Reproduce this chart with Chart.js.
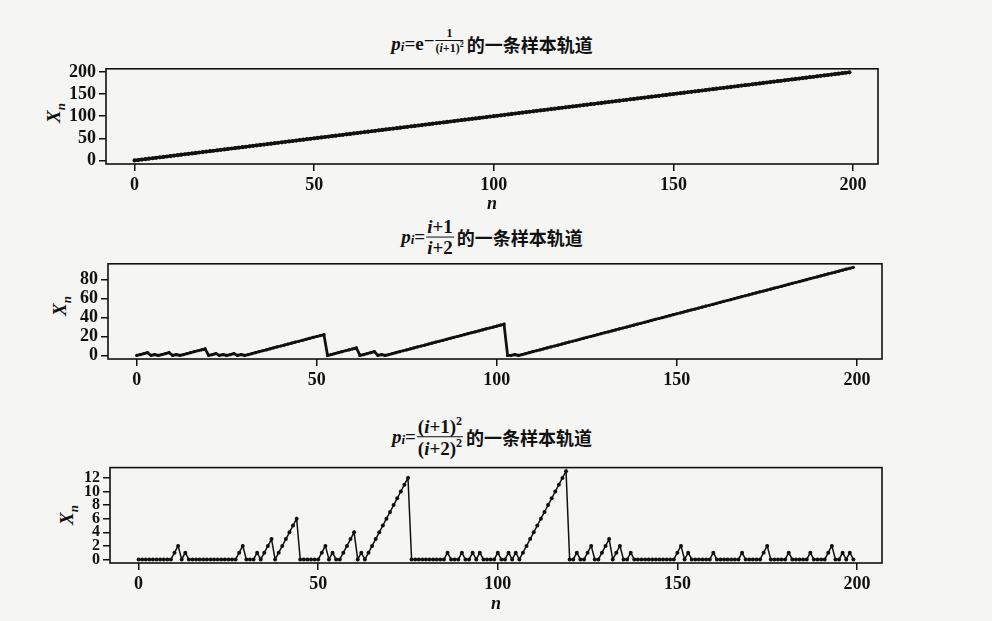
<!DOCTYPE html>
<html>
<head>
<meta charset="utf-8">
<script src="https://cdn.jsdelivr.net/npm/chart.js@4/dist/chart.umd.min.js"></script>
<style>
  body { margin: 0; background: #f5f5f4; }
  #wrap { position: relative; width: 992px; height: 621px; overflow: hidden; }
  canvas { position: absolute; left: 0; }
  .ttl {
    position: absolute; left: 492px; transform: translate(-50%, -50%);
    font-family: "Liberation Serif", "Noto Sans CJK SC", serif; font-weight: bold;
    font-size: 19px; color: #111; white-space: nowrap;
    display: flex; align-items: center;
  }
  .ttl sub { font-size: 13px; position: relative; top: 3px; vertical-align: baseline; }
  .ttl .cn { font-family: "Noto Sans CJK SC", sans-serif; font-size: 18px; margin-left: 2px; }
  .frac { display: inline-flex; flex-direction: column; text-align: center; line-height: 1.05; margin: 0 1px; }
  .frac .num { border-bottom: 1.4px solid #111; padding: 0 1px; }
  .small { font-size: 12px; }
  .ylab {
    position: absolute; transform: translate(-50%, -50%) rotate(-90deg);
    font-family: "Liberation Serif", serif; font-style: italic; font-weight: bold;
    font-size: 19px; color: #111;
  }
  .ylab sub { font-size: 13px; }
</style>
</head>
<body>
<div id="wrap">
  <div class="ttl" style="top:44px"><i>p</i><sub><i>i</i></sub>=e<span style="align-self:flex-start;display:flex;align-items:center;margin-top:-4px;">&minus;<span class="frac small"><span class="num">1</span><span>(<i>i</i>+1)<sup style="font-size:8px">2</sup></span></span></span><span class="cn">的一条样本轨道</span></div>
  <div class="ttl" style="top:237px"><i>p</i><sub><i>i</i></sub>=<span class="frac"><span class="num"><i>i</i>+1</span><span><i>i</i>+2</span></span><span class="cn">的一条样本轨道</span></div>
  <div class="ttl" style="top:437px"><i>p</i><sub><i>i</i></sub>=<span class="frac"><span class="num">(<i>i</i>+1)<sup style="font-size:12px">2</sup></span><span>(<i>i</i>+2)<sup style="font-size:12px">2</sup></span></span><span class="cn">的一条样本轨道</span></div>

  <div class="ylab" style="left:56px;top:113px">X<sub>n</sub></div>
  <div class="ylab" style="left:62px;top:306px">X<sub>n</sub></div>
  <div class="ylab" style="left:69px;top:515px">X<sub>n</sub></div>

  <canvas id="c1" width="992" height="160" style="top:55px"></canvas>
  <canvas id="c2" width="992" height="145" style="top:250px"></canvas>
  <canvas id="c3" width="992" height="160" style="top:455px"></canvas>
</div>
<script>
// sample paths X_n, n = 0..199
const pathA = [
  0, 1, 2, 3, 4, 5, 6, 7, 8, 9, 10, 11, 12, 13, 14, 15, 16, 17, 18, 19,
  20, 21, 22, 23, 24, 25, 26, 27, 28, 29, 30, 31, 32, 33, 34, 35, 36, 37, 38, 39,
  40, 41, 42, 43, 44, 45, 46, 47, 48, 49, 50, 51, 52, 53, 54, 55, 56, 57, 58, 59,
  60, 61, 62, 63, 64, 65, 66, 67, 68, 69, 70, 71, 72, 73, 74, 75, 76, 77, 78, 79,
  80, 81, 82, 83, 84, 85, 86, 87, 88, 89, 90, 91, 92, 93, 94, 95, 96, 97, 98, 99,
  100, 101, 102, 103, 104, 105, 106, 107, 108, 109, 110, 111, 112, 113, 114, 115, 116, 117, 118, 119,
  120, 121, 122, 123, 124, 125, 126, 127, 128, 129, 130, 131, 132, 133, 134, 135, 136, 137, 138, 139,
  140, 141, 142, 143, 144, 145, 146, 147, 148, 149, 150, 151, 152, 153, 154, 155, 156, 157, 158, 159,
  160, 161, 162, 163, 164, 165, 166, 167, 168, 169, 170, 171, 172, 173, 174, 175, 176, 177, 178, 179,
  180, 181, 182, 183, 184, 185, 186, 187, 188, 189, 190, 191, 192, 193, 194, 195, 196, 197, 198, 199
];
const pathB = [
  0, 1, 2, 3, 0, 1, 0, 1, 2, 3, 0, 1, 0, 1, 2, 3, 4, 5, 6, 7,
  0, 1, 2, 0, 1, 0, 1, 2, 0, 1, 0, 1, 2, 3, 4, 5, 6, 7, 8, 9,
  10, 11, 12, 13, 14, 15, 16, 17, 18, 19, 20, 21, 22, 0, 1, 2, 3, 4, 5, 6,
  7, 8, 0, 1, 2, 3, 4, 0, 1, 0, 1, 2, 3, 4, 5, 6, 7, 8, 9, 10,
  11, 12, 13, 14, 15, 16, 17, 18, 19, 20, 21, 22, 23, 24, 25, 26, 27, 28, 29, 30,
  31, 32, 33, 0, 0, 1, 0, 1, 2, 3, 4, 5, 6, 7, 8, 9, 10, 11, 12, 13,
  14, 15, 16, 17, 18, 19, 20, 21, 22, 23, 24, 25, 26, 27, 28, 29, 30, 31, 32, 33,
  34, 35, 36, 37, 38, 39, 40, 41, 42, 43, 44, 45, 46, 47, 48, 49, 50, 51, 52, 53,
  54, 55, 56, 57, 58, 59, 60, 61, 62, 63, 64, 65, 66, 67, 68, 69, 70, 71, 72, 73,
  74, 75, 76, 77, 78, 79, 80, 81, 82, 83, 84, 85, 86, 87, 88, 89, 90, 91, 92, 93
];
const pathC = [
  0, 0, 0, 0, 0, 0, 0, 0, 0, 0, 1, 2, 0, 1, 0, 0, 0, 0, 0, 0,
  0, 0, 0, 0, 0, 0, 0, 0, 1, 2, 0, 0, 0, 1, 0, 1, 2, 3, 0, 1,
  2, 3, 4, 5, 6, 0, 0, 0, 0, 0, 0, 1, 2, 0, 1, 0, 0, 1, 2, 3,
  4, 0, 1, 0, 1, 2, 3, 4, 5, 6, 7, 8, 9, 10, 11, 12, 0, 0, 0, 0,
  0, 0, 0, 0, 0, 0, 1, 0, 0, 0, 1, 0, 0, 1, 0, 1, 0, 0, 0, 0,
  1, 0, 0, 1, 0, 1, 0, 1, 2, 3, 4, 5, 6, 7, 8, 9, 10, 11, 12, 13,
  0, 0, 1, 0, 0, 1, 2, 0, 0, 1, 2, 3, 0, 1, 2, 0, 0, 1, 0, 0,
  0, 0, 0, 0, 0, 0, 0, 0, 0, 0, 1, 2, 0, 1, 0, 0, 0, 0, 0, 0,
  1, 0, 0, 0, 0, 0, 0, 0, 1, 0, 0, 0, 0, 0, 1, 2, 0, 0, 0, 0,
  0, 1, 0, 0, 0, 0, 0, 1, 0, 0, 0, 0, 1, 2, 0, 0, 1, 0, 1, 0
];

const xTicks = [0, 50, 100, 150, 200];
const yTicksA = [0, 50, 100, 150, 200];
const yTicksB = [0, 20, 40, 60, 80];
const yTicksC = [0, 2, 4, 6, 8, 10, 12];

const ink = '#111';
const serif = 'Liberation Serif';

// frame round the plot region, like R's box()
const boxPlugin = {
  id: 'box',
  afterDraw(chart) {
    const { ctx, chartArea: a } = chart;
    ctx.save();
    ctx.strokeStyle = ink;
    ctx.lineWidth = 1.6;
    ctx.strokeRect(a.left, a.top, a.right - a.left, a.bottom - a.top);
    ctx.restore();
  }
};

// R style range: data range stretched by 4% on each side
function rRange(arr) {
  const lo = Math.min(...arr), hi = Math.max(...arr);
  const d = (hi - lo) * 0.04;
  return [lo - d, hi + d];
}

function makePanel(id, values, yTicks, box, top, height, showN, yFont, pw, pr) {
  const [xMin, xMax] = rRange(values.map((v, i) => i));
  const [yMin, yMax] = rRange(values);
  new Chart(document.getElementById(id), {
    type: 'line',
    data: {
      datasets: [{
        data: values.map((v, i) => ({ x: i, y: v })),
        borderColor: ink,
        backgroundColor: ink,
        borderWidth: pw,
        pointRadius: pr,
        pointBorderWidth: 0,
        tension: 0
      }]
    },
    options: {
      responsive: false,
      animation: false,
      layout: { padding: { left: 0, right: 992 - box.r, top: box.t - top, bottom: 0 } },
      plugins: { legend: { display: false }, tooltip: { enabled: false } },
      scales: {
        x: {
          type: 'linear', min: xMin, max: xMax,
          afterBuildTicks: s => { s.ticks = xTicks.map(v => ({ value: v })); },
          afterFit: s => { s.height = top + height - box.b; },
          grid: { drawOnChartArea: false, drawTicks: true, tickLength: 7, color: ink, lineWidth: 1.5 },
          border: { display: false },
          ticks: { color: ink, autoSkip: false, maxRotation: 0, padding: 4,
                   font: { family: serif, size: 18, weight: 'bold' } },
          title: { display: showN, text: 'n', color: ink, padding: { top: -3, bottom: 0 },
                   font: { family: serif, size: 18, weight: 'bold', style: 'italic' } }
        },
        y: {
          type: 'linear', min: yMin, max: yMax,
          afterBuildTicks: s => { s.ticks = yTicks.map(v => ({ value: v })); },
          afterFit: s => { s.width = box.l; },
          grid: { drawOnChartArea: false, drawTicks: true, tickLength: 7, color: ink, lineWidth: 1.5 },
          border: { display: false },
          ticks: { color: ink, autoSkip: false, padding: 3,
                   font: { family: serif, size: yFont, weight: 'bold' } }
        }
      }
    },
    plugins: [boxPlugin]
  });
}

makePanel('c1', pathA, yTicksA, { l: 106, r: 878, t: 61, b: 164 }, 55, 160, true, 18, 3, 2.1);
makePanel('c2', pathB, yTicksB, { l: 108, r: 882, t: 256, b: 359 }, 250, 145, false, 18, 2.8, 1.6);
makePanel('c3', pathC, yTicksC, { l: 110, r: 882, t: 461, b: 563 }, 455, 160, true, 16, 1.5, 2);
</script>
</body>
</html>
